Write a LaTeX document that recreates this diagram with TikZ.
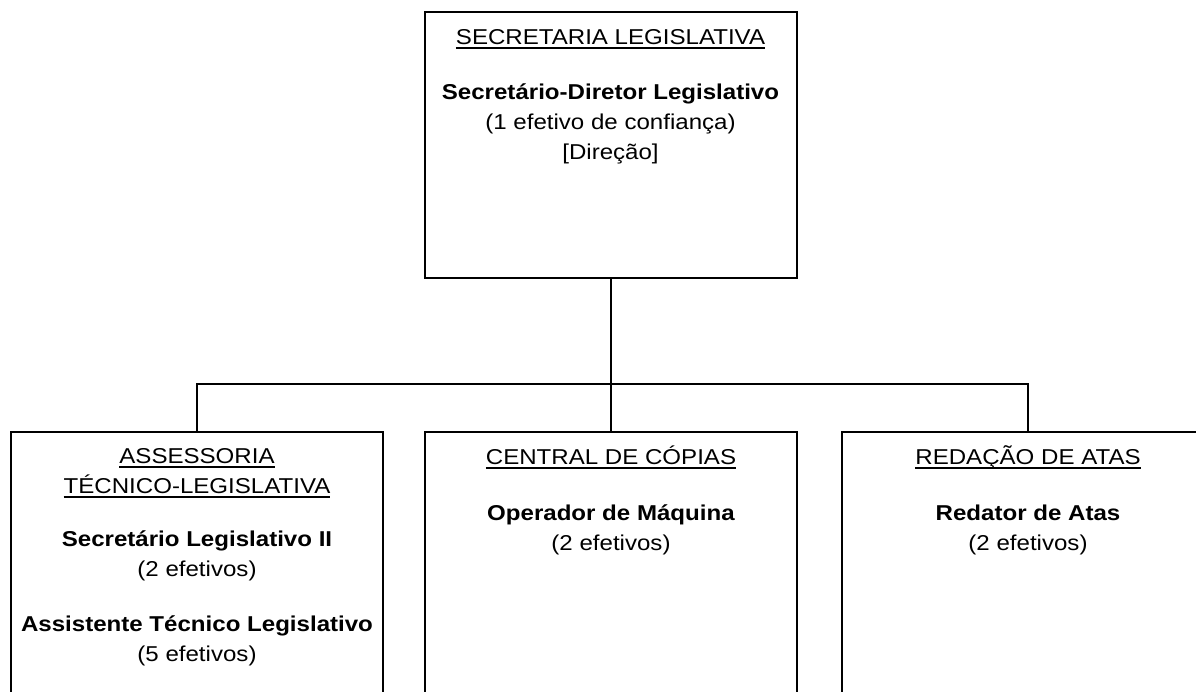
\documentclass[tikz,border=0pt]{standalone}
\usepackage{fontspec}
\setmainfont{Liberation Sans}[FakeStretch=1.12]
\newcommand{\ulbox}[1]{\setbox0\hbox{#1}\rlap{\rule[-5.2pt]{\wd0}{2pt}}\box0}
\begin{document}
\begin{tikzpicture}[x=1pt,y=-1pt,line width=2pt,
  boxnode/.style={draw,rectangle,minimum width=372pt,inner sep=0pt,line width=2pt},
  txt/.style={anchor=north,align=center,inner sep=0pt,font=\fontsize{21.5}{30}\selectfont}]
\useasboundingbox (0,0) rectangle (1196,691);
\clip (0,0) rectangle (1196,691);
% boxes
\node[boxnode,minimum height=266pt] (top) at (610.5,145.3) {};
\node[boxnode,minimum height=328pt] (left) at (197,596) {};
\node[boxnode,minimum height=328pt] (mid) at (611,596) {};
\node[boxnode,minimum height=328pt] (right) at (1028,596) {};
% connectors
\coordinate (bus) at (0,384);
\draw (top.south) -- (top.south |- bus);
\draw (left.north) -- (left.north |- bus) -- (right.north |- bus) -- (right.north);
\draw (mid.north) -- (mid.north |- bus);
% texts
\node[txt] (topT) at (610.5,22) {\strut\ulbox{SECRETARIA LEGISLATIVA}\\[25pt]
  \textbf{Secretário-Diretor Legislativo}\\ (1 efetivo de confiança)\\ {[}Direção{]}};
\node[txt] (leftT) at (197,441) {\strut\ulbox{ASSESSORIA}\\ \ulbox{TÉCNICO-LEGISLATIVA}\\[23pt]
  \textbf{Secretário Legislativo II}\\ (2 efetivos)\\[25pt]
  \textbf{Assistente Técnico Legislativo}\\ (5 efetivos)};
\node[txt] (midT) at (611,442) {\strut\ulbox{CENTRAL DE CÓPIAS}\\[26pt]
  \textbf{Operador de Máquina}\\ (2 efetivos)};
\node[txt] (rightT) at (1028,442) {\strut\ulbox{REDAÇÃO DE ATAS}\\[26pt]
  \textbf{Redator de Atas}\\ (2 efetivos)};
\end{tikzpicture}
\end{document}
